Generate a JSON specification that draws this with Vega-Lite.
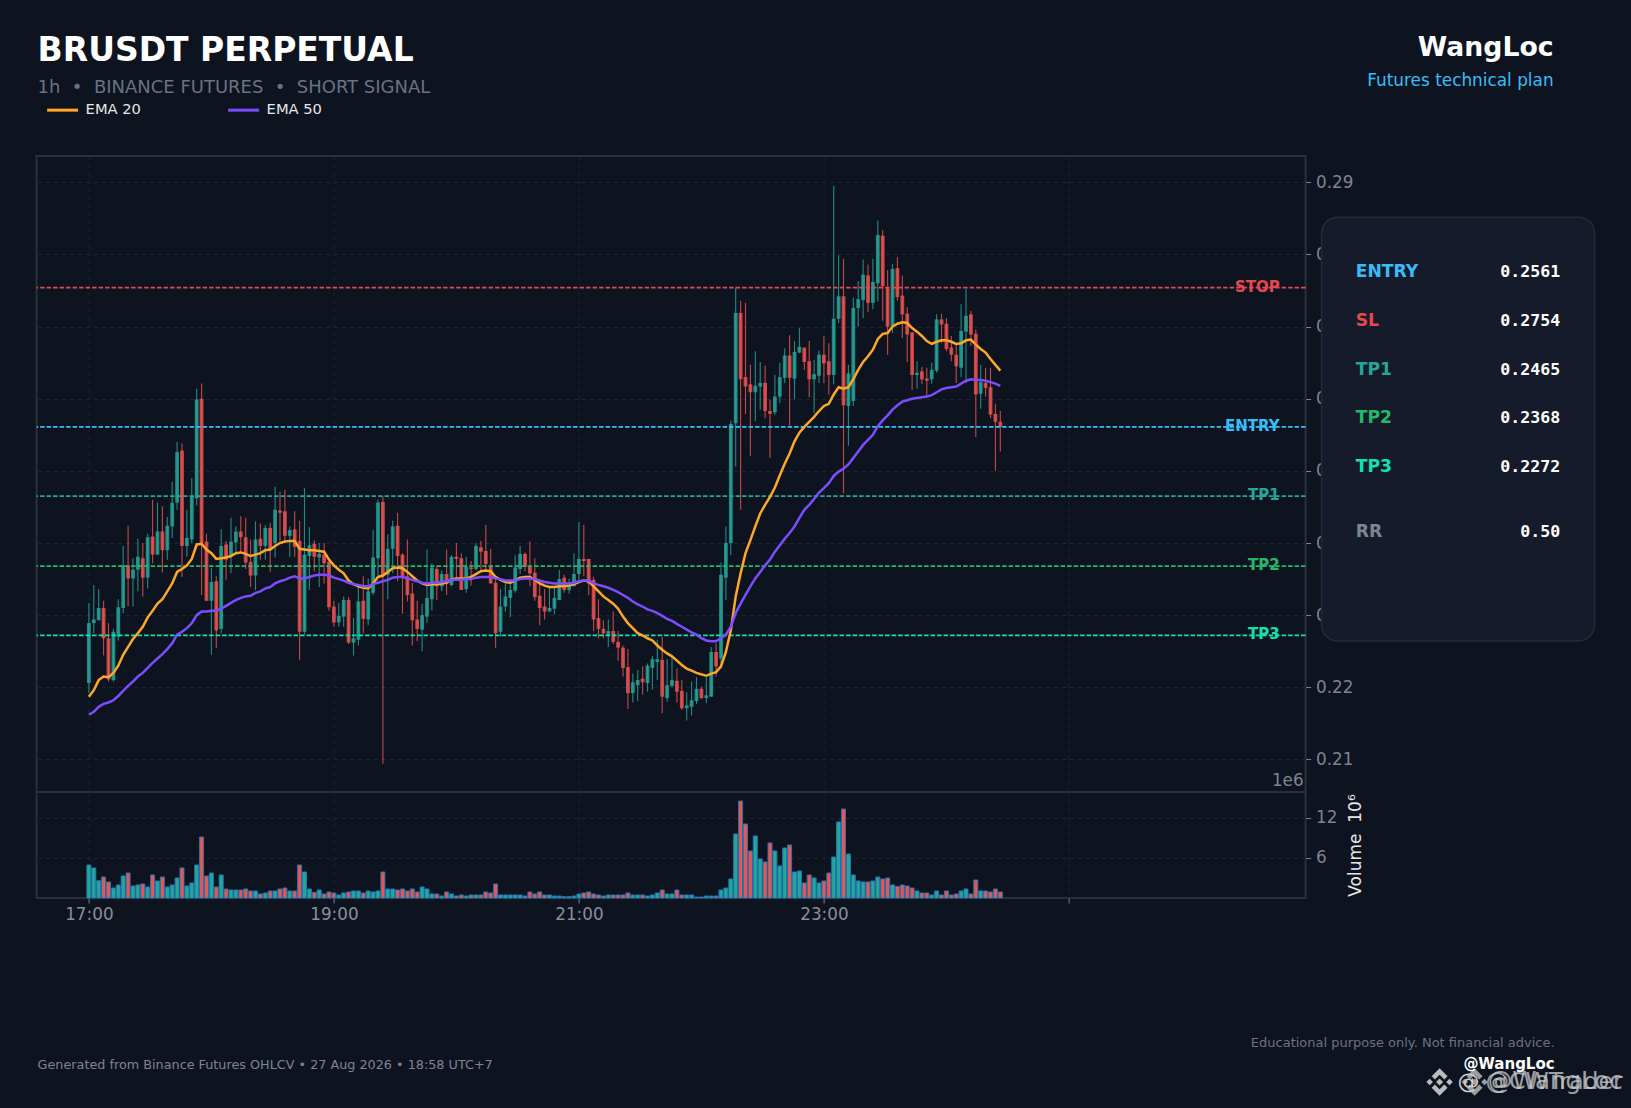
{"$schema":"https://vega.github.io/schema/vega-lite/v6.json","background":"#0d1420","padding":{"left":34.6,"top":0,"right":11,"bottom":0},"columns":2,"bounds":"flush","spacing":{"row":0,"column":16},"resolve":{"scale":{"color":"independent"}},"config":{"font":"DejaVu Sans","view":{"stroke":null},"text":{"font":"DejaVu Sans"}},
"datasets":{"levels":[{"name":"STOP","price":0.2754},{"name":"ENTRY","price":0.2561},{"name":"TP1","price":0.2465},{"name":"TP2","price":0.2368},{"name":"TP3","price":0.2272}],
"plan":[{"label":"ENTRY","value":"0.2561","row":1},{"label":"SL","value":"0.2754","row":2},{"label":"TP1","value":"0.2465","row":3},{"label":"TP2","value":"0.2368","row":4},{"label":"TP3","value":"0.2272","row":5},{"label":"RR","value":"0.50","row":6.34}],
"bars":[
{"i":0,"d":"up","o":0.2206,"h":0.2317,"l":0.2192,"c":0.2289,"e20":0.2187,"e50":0.2162,"v":4.95},
{"i":1,"d":"up","o":0.2289,"h":0.2342,"l":0.2275,"c":0.2294,"e20":0.2196,"e50":0.2166,"v":4.5},
{"i":2,"d":"up","o":0.2293,"h":0.2336,"l":0.2293,"c":0.231,"e20":0.221,"e50":0.2173,"v":2.6},
{"i":3,"d":"down","o":0.231,"h":0.232,"l":0.2244,"c":0.2268,"e20":0.2215,"e50":0.2177,"v":3.15},
{"i":4,"d":"down","o":0.2268,"h":0.2289,"l":0.2208,"c":0.2211,"e20":0.2214,"e50":0.2179,"v":2.4},
{"i":5,"d":"up","o":0.221,"h":0.2281,"l":0.2208,"c":0.2277,"e20":0.222,"e50":0.2182,"v":1.5},
{"i":6,"d":"up","o":0.227,"h":0.2322,"l":0.2265,"c":0.2311,"e20":0.223,"e50":0.2188,"v":1.95},
{"i":7,"d":"up","o":0.231,"h":0.2396,"l":0.2303,"c":0.2369,"e20":0.2245,"e50":0.2195,"v":3.3},
{"i":8,"d":"down","o":0.2369,"h":0.2424,"l":0.2312,"c":0.2351,"e20":0.2256,"e50":0.2202,"v":3.75},
{"i":9,"d":"up","o":0.2351,"h":0.2379,"l":0.2312,"c":0.2363,"e20":0.2267,"e50":0.2208,"v":1.8},
{"i":10,"d":"up","o":0.2363,"h":0.2406,"l":0.2333,"c":0.2381,"e20":0.2275,"e50":0.2215,"v":1.95},
{"i":11,"d":"down","o":0.2379,"h":0.24,"l":0.2326,"c":0.2352,"e20":0.2284,"e50":0.222,"v":2.1},
{"i":12,"d":"up","o":0.2352,"h":0.2413,"l":0.2337,"c":0.2408,"e20":0.2297,"e50":0.2227,"v":1.65},
{"i":13,"d":"down","o":0.2409,"h":0.246,"l":0.2372,"c":0.2384,"e20":0.2306,"e50":0.2234,"v":3.45},
{"i":14,"d":"up","o":0.2384,"h":0.2456,"l":0.2384,"c":0.2416,"e20":0.2316,"e50":0.224,"v":2.55},
{"i":15,"d":"down","o":0.2416,"h":0.2451,"l":0.2359,"c":0.239,"e20":0.2322,"e50":0.2246,"v":3.15},
{"i":16,"d":"up","o":0.239,"h":0.2436,"l":0.2377,"c":0.2424,"e20":0.2333,"e50":0.2253,"v":1.65},
{"i":17,"d":"up","o":0.2423,"h":0.2485,"l":0.2407,"c":0.2456,"e20":0.2344,"e50":0.2261,"v":1.95},
{"i":18,"d":"up","o":0.2456,"h":0.254,"l":0.2446,"c":0.2526,"e20":0.236,"e50":0.2273,"v":3.0},
{"i":19,"d":"down","o":0.2528,"h":0.2538,"l":0.2353,"c":0.2396,"e20":0.2364,"e50":0.2277,"v":4.5},
{"i":20,"d":"up","o":0.2396,"h":0.2446,"l":0.2381,"c":0.2407,"e20":0.2369,"e50":0.2282,"v":1.8},
{"i":21,"d":"up","o":0.2405,"h":0.249,"l":0.24,"c":0.2465,"e20":0.2378,"e50":0.2289,"v":2.25},
{"i":22,"d":"up","o":0.2462,"h":0.2614,"l":0.2452,"c":0.2599,"e20":0.2398,"e50":0.23,"v":4.95},
{"i":23,"d":"down","o":0.26,"h":0.2621,"l":0.2328,"c":0.24,"e20":0.2399,"e50":0.2305,"v":9.15},
{"i":24,"d":"down","o":0.2402,"h":0.2413,"l":0.232,"c":0.232,"e20":0.2391,"e50":0.2305,"v":3.3},
{"i":25,"d":"up","o":0.232,"h":0.2365,"l":0.2245,"c":0.2346,"e20":0.2386,"e50":0.2306,"v":3.75},
{"i":26,"d":"down","o":0.2347,"h":0.2354,"l":0.2255,"c":0.2279,"e20":0.2378,"e50":0.2306,"v":1.65},
{"i":27,"d":"up","o":0.2281,"h":0.2419,"l":0.2275,"c":0.2396,"e20":0.2379,"e50":0.2309,"v":3.45},
{"i":28,"d":"down","o":0.2398,"h":0.2403,"l":0.2349,"c":0.2377,"e20":0.238,"e50":0.2313,"v":1.35},
{"i":29,"d":"up","o":0.2382,"h":0.2435,"l":0.2358,"c":0.2402,"e20":0.2382,"e50":0.2317,"v":1.2},
{"i":30,"d":"up","o":0.2401,"h":0.2423,"l":0.2386,"c":0.2416,"e20":0.2386,"e50":0.2321,"v":1.2},
{"i":31,"d":"down","o":0.2416,"h":0.2437,"l":0.2386,"c":0.2408,"e20":0.2387,"e50":0.2324,"v":1.2},
{"i":32,"d":"down","o":0.2408,"h":0.2435,"l":0.2364,"c":0.2373,"e20":0.2385,"e50":0.2326,"v":1.35},
{"i":33,"d":"down","o":0.2374,"h":0.2405,"l":0.2339,"c":0.2355,"e20":0.2382,"e50":0.2327,"v":1.05},
{"i":34,"d":"up","o":0.2355,"h":0.243,"l":0.2335,"c":0.2405,"e20":0.2384,"e50":0.2331,"v":1.05},
{"i":35,"d":"down","o":0.2406,"h":0.2427,"l":0.2377,"c":0.2396,"e20":0.2386,"e50":0.2333,"v":0.6},
{"i":36,"d":"up","o":0.2396,"h":0.2425,"l":0.2377,"c":0.2421,"e20":0.239,"e50":0.2337,"v":0.75},
{"i":37,"d":"down","o":0.2421,"h":0.2428,"l":0.236,"c":0.2391,"e20":0.2391,"e50":0.2339,"v":1.05},
{"i":38,"d":"up","o":0.24,"h":0.2478,"l":0.238,"c":0.2446,"e20":0.2396,"e50":0.2344,"v":1.05},
{"i":39,"d":"down","o":0.2445,"h":0.2471,"l":0.2402,"c":0.2442,"e20":0.24,"e50":0.2347,"v":1.35},
{"i":40,"d":"down","o":0.2444,"h":0.2474,"l":0.24,"c":0.241,"e20":0.2402,"e50":0.2349,"v":1.5},
{"i":41,"d":"up","o":0.241,"h":0.2423,"l":0.2381,"c":0.2418,"e20":0.2403,"e50":0.2352,"v":1.05},
{"i":42,"d":"down","o":0.2419,"h":0.2444,"l":0.2381,"c":0.2395,"e20":0.2403,"e50":0.2354,"v":1.05},
{"i":43,"d":"down","o":0.2403,"h":0.2431,"l":0.2238,"c":0.2277,"e20":0.2392,"e50":0.2351,"v":4.95},
{"i":44,"d":"up","o":0.2277,"h":0.2476,"l":0.2274,"c":0.2384,"e20":0.2391,"e50":0.2351,"v":3.9},
{"i":45,"d":"up","o":0.2382,"h":0.2422,"l":0.2335,"c":0.2397,"e20":0.239,"e50":0.2353,"v":1.35},
{"i":46,"d":"down","o":0.2399,"h":0.2404,"l":0.2361,"c":0.2381,"e20":0.239,"e50":0.2355,"v":0.85},
{"i":47,"d":"up","o":0.238,"h":0.24,"l":0.2339,"c":0.2385,"e20":0.2389,"e50":0.2356,"v":1.2},
{"i":48,"d":"down","o":0.2384,"h":0.24,"l":0.2344,"c":0.2372,"e20":0.2388,"e50":0.2356,"v":0.6},
{"i":49,"d":"down","o":0.2374,"h":0.2377,"l":0.2306,"c":0.2311,"e20":0.2377,"e50":0.2355,"v":0.9},
{"i":50,"d":"down","o":0.2312,"h":0.232,"l":0.2284,"c":0.229,"e20":0.2369,"e50":0.2352,"v":0.75},
{"i":51,"d":"up","o":0.229,"h":0.2317,"l":0.2284,"c":0.2299,"e20":0.2363,"e50":0.235,"v":0.45},
{"i":52,"d":"up","o":0.2298,"h":0.2326,"l":0.2284,"c":0.2321,"e20":0.2358,"e50":0.2348,"v":0.75},
{"i":53,"d":"down","o":0.2321,"h":0.2325,"l":0.226,"c":0.2262,"e20":0.2348,"e50":0.2345,"v":0.9},
{"i":54,"d":"up","o":0.2262,"h":0.2296,"l":0.2244,"c":0.2268,"e20":0.2343,"e50":0.2343,"v":1.05},
{"i":55,"d":"up","o":0.2266,"h":0.234,"l":0.2258,"c":0.2319,"e20":0.234,"e50":0.2342,"v":1.05},
{"i":56,"d":"down","o":0.232,"h":0.2354,"l":0.2275,"c":0.2295,"e20":0.2338,"e50":0.234,"v":0.75},
{"i":57,"d":"up","o":0.2294,"h":0.2351,"l":0.2286,"c":0.2333,"e20":0.2337,"e50":0.234,"v":1.05},
{"i":58,"d":"up","o":0.2331,"h":0.2418,"l":0.2328,"c":0.238,"e20":0.2344,"e50":0.2343,"v":0.9},
{"i":59,"d":"up","o":0.2379,"h":0.246,"l":0.2355,"c":0.2456,"e20":0.2353,"e50":0.2345,"v":1.05},
{"i":60,"d":"down","o":0.2457,"h":0.2465,"l":0.2094,"c":0.2354,"e20":0.2355,"e50":0.2347,"v":3.9},
{"i":61,"d":"up","o":0.2356,"h":0.2412,"l":0.2322,"c":0.2392,"e20":0.236,"e50":0.2349,"v":1.35},
{"i":62,"d":"up","o":0.2392,"h":0.2431,"l":0.2358,"c":0.2423,"e20":0.2365,"e50":0.2352,"v":1.35},
{"i":63,"d":"down","o":0.2424,"h":0.2442,"l":0.2347,"c":0.2382,"e20":0.2366,"e50":0.2353,"v":1.2},
{"i":64,"d":"down","o":0.2384,"h":0.2386,"l":0.2302,"c":0.2354,"e20":0.2365,"e50":0.2353,"v":1.35},
{"i":65,"d":"down","o":0.2354,"h":0.2405,"l":0.2319,"c":0.2328,"e20":0.236,"e50":0.2351,"v":1.05},
{"i":66,"d":"down","o":0.233,"h":0.2345,"l":0.2258,"c":0.2293,"e20":0.2354,"e50":0.2349,"v":1.35},
{"i":67,"d":"down","o":0.2294,"h":0.232,"l":0.2264,"c":0.2281,"e20":0.2348,"e50":0.2347,"v":0.9},
{"i":68,"d":"up","o":0.228,"h":0.2316,"l":0.225,"c":0.23,"e20":0.2344,"e50":0.2345,"v":1.65},
{"i":69,"d":"up","o":0.2298,"h":0.2391,"l":0.2289,"c":0.2324,"e20":0.2342,"e50":0.2344,"v":1.35},
{"i":70,"d":"up","o":0.2322,"h":0.2372,"l":0.2307,"c":0.2366,"e20":0.2343,"e50":0.2345,"v":0.6},
{"i":71,"d":"down","o":0.2364,"h":0.2367,"l":0.2321,"c":0.234,"e20":0.2343,"e50":0.2345,"v":0.6},
{"i":72,"d":"up","o":0.234,"h":0.2362,"l":0.2333,"c":0.2357,"e20":0.2344,"e50":0.2346,"v":0.3},
{"i":73,"d":"down","o":0.2357,"h":0.2391,"l":0.2328,"c":0.2344,"e20":0.2345,"e50":0.2347,"v":0.9},
{"i":74,"d":"up","o":0.2342,"h":0.2383,"l":0.234,"c":0.2381,"e20":0.235,"e50":0.2349,"v":0.6},
{"i":75,"d":"down","o":0.2381,"h":0.24,"l":0.2349,"c":0.2378,"e20":0.2351,"e50":0.2349,"v":0.3},
{"i":76,"d":"down","o":0.2379,"h":0.2386,"l":0.2335,"c":0.2335,"e20":0.2351,"e50":0.2349,"v":0.45},
{"i":77,"d":"up","o":0.2336,"h":0.2381,"l":0.2331,"c":0.2367,"e20":0.2351,"e50":0.235,"v":0.3},
{"i":78,"d":"down","o":0.2366,"h":0.2375,"l":0.2341,"c":0.2364,"e20":0.2353,"e50":0.235,"v":0.45},
{"i":79,"d":"up","o":0.2364,"h":0.24,"l":0.2362,"c":0.2396,"e20":0.2357,"e50":0.2352,"v":0.45},
{"i":80,"d":"down","o":0.2394,"h":0.2403,"l":0.2362,"c":0.2388,"e20":0.2361,"e50":0.2353,"v":0.45},
{"i":81,"d":"down","o":0.2389,"h":0.2425,"l":0.2361,"c":0.2371,"e20":0.2362,"e50":0.2353,"v":0.9},
{"i":82,"d":"down","o":0.2369,"h":0.2392,"l":0.2344,"c":0.2344,"e20":0.2361,"e50":0.2353,"v":0.75},
{"i":83,"d":"down","o":0.2345,"h":0.2351,"l":0.2255,"c":0.2275,"e20":0.2353,"e50":0.2351,"v":2.1},
{"i":84,"d":"up","o":0.2277,"h":0.2336,"l":0.227,"c":0.2312,"e20":0.2349,"e50":0.235,"v":0.45},
{"i":85,"d":"up","o":0.2312,"h":0.2344,"l":0.2305,"c":0.2326,"e20":0.2346,"e50":0.2348,"v":0.45},
{"i":86,"d":"up","o":0.2324,"h":0.2349,"l":0.2297,"c":0.2335,"e20":0.2345,"e50":0.2348,"v":0.45},
{"i":87,"d":"up","o":0.2334,"h":0.2383,"l":0.2331,"c":0.2366,"e20":0.2348,"e50":0.2348,"v":0.45},
{"i":88,"d":"up","o":0.2364,"h":0.2396,"l":0.2357,"c":0.2385,"e20":0.2352,"e50":0.235,"v":0.45},
{"i":89,"d":"down","o":0.2385,"h":0.2387,"l":0.2361,"c":0.2367,"e20":0.2353,"e50":0.2351,"v":0.3},
{"i":90,"d":"down","o":0.2367,"h":0.2402,"l":0.234,"c":0.2358,"e20":0.2353,"e50":0.2351,"v":0.9},
{"i":91,"d":"down","o":0.2359,"h":0.2379,"l":0.232,"c":0.2325,"e20":0.2349,"e50":0.235,"v":0.6},
{"i":92,"d":"down","o":0.2327,"h":0.2349,"l":0.2286,"c":0.231,"e20":0.2344,"e50":0.2348,"v":0.9},
{"i":93,"d":"down","o":0.2312,"h":0.2336,"l":0.2294,"c":0.2305,"e20":0.2341,"e50":0.2346,"v":0.45},
{"i":94,"d":"up","o":0.2305,"h":0.234,"l":0.2305,"c":0.231,"e20":0.2339,"e50":0.2345,"v":0.45},
{"i":95,"d":"up","o":0.2309,"h":0.2338,"l":0.2301,"c":0.2324,"e20":0.2339,"e50":0.2344,"v":0.3},
{"i":96,"d":"up","o":0.2321,"h":0.2363,"l":0.2321,"c":0.235,"e20":0.234,"e50":0.2344,"v":0.3},
{"i":97,"d":"down","o":0.2352,"h":0.2356,"l":0.2331,"c":0.2335,"e20":0.234,"e50":0.2344,"v":0.2},
{"i":98,"d":"up","o":0.2335,"h":0.235,"l":0.233,"c":0.2341,"e20":0.2341,"e50":0.2344,"v":0.2},
{"i":99,"d":"up","o":0.234,"h":0.2386,"l":0.234,"c":0.2357,"e20":0.2343,"e50":0.2345,"v":0.3},
{"i":100,"d":"up","o":0.2357,"h":0.2429,"l":0.2345,"c":0.2378,"e20":0.2346,"e50":0.2347,"v":0.6},
{"i":101,"d":"down","o":0.2378,"h":0.2425,"l":0.2354,"c":0.2375,"e20":0.2348,"e50":0.2348,"v":0.75},
{"i":102,"d":"down","o":0.2378,"h":0.2378,"l":0.2328,"c":0.2344,"e20":0.2347,"e50":0.2348,"v":0.9},
{"i":103,"d":"down","o":0.2349,"h":0.2353,"l":0.2278,"c":0.2294,"e20":0.234,"e50":0.2344,"v":0.6},
{"i":104,"d":"down","o":0.2296,"h":0.2322,"l":0.2268,"c":0.2281,"e20":0.2333,"e50":0.2342,"v":0.45},
{"i":105,"d":"down","o":0.2281,"h":0.2293,"l":0.2268,"c":0.2275,"e20":0.2326,"e50":0.234,"v":0.3},
{"i":106,"d":"up","o":0.2273,"h":0.2294,"l":0.2256,"c":0.2278,"e20":0.2321,"e50":0.2338,"v":0.45},
{"i":107,"d":"down","o":0.2278,"h":0.2305,"l":0.226,"c":0.2263,"e20":0.2316,"e50":0.2335,"v":0.45},
{"i":108,"d":"down","o":0.2263,"h":0.2278,"l":0.2237,"c":0.2255,"e20":0.2309,"e50":0.2332,"v":0.45},
{"i":109,"d":"down","o":0.2255,"h":0.2258,"l":0.2215,"c":0.2227,"e20":0.2298,"e50":0.2328,"v":0.45},
{"i":110,"d":"down","o":0.2228,"h":0.2253,"l":0.217,"c":0.2192,"e20":0.2289,"e50":0.2324,"v":0.75},
{"i":111,"d":"up","o":0.2192,"h":0.2219,"l":0.2179,"c":0.2207,"e20":0.2282,"e50":0.2319,"v":0.45},
{"i":112,"d":"up","o":0.2203,"h":0.2224,"l":0.2181,"c":0.221,"e20":0.2275,"e50":0.2315,"v":0.45},
{"i":113,"d":"down","o":0.2212,"h":0.2229,"l":0.219,"c":0.2207,"e20":0.2272,"e50":0.2312,"v":0.45},
{"i":114,"d":"up","o":0.2206,"h":0.2233,"l":0.2194,"c":0.223,"e20":0.2268,"e50":0.2308,"v":0.3},
{"i":115,"d":"up","o":0.2227,"h":0.2243,"l":0.2197,"c":0.2239,"e20":0.2265,"e50":0.2306,"v":0.45},
{"i":116,"d":"up","o":0.2235,"h":0.2266,"l":0.221,"c":0.2239,"e20":0.2258,"e50":0.2303,"v":0.75},
{"i":117,"d":"down","o":0.2238,"h":0.227,"l":0.2164,"c":0.2187,"e20":0.2252,"e50":0.2299,"v":1.2},
{"i":118,"d":"up","o":0.2185,"h":0.2239,"l":0.218,"c":0.2203,"e20":0.2247,"e50":0.2295,"v":0.6},
{"i":119,"d":"up","o":0.2202,"h":0.2245,"l":0.22,"c":0.221,"e20":0.2243,"e50":0.2292,"v":0.6},
{"i":120,"d":"down","o":0.2209,"h":0.2226,"l":0.2179,"c":0.2194,"e20":0.2237,"e50":0.2288,"v":1.2},
{"i":121,"d":"down","o":0.2195,"h":0.221,"l":0.2169,"c":0.2171,"e20":0.2231,"e50":0.2284,"v":0.45},
{"i":122,"d":"up","o":0.2171,"h":0.2193,"l":0.2154,"c":0.2175,"e20":0.2226,"e50":0.228,"v":0.45},
{"i":123,"d":"up","o":0.2173,"h":0.2208,"l":0.2161,"c":0.2182,"e20":0.2223,"e50":0.2276,"v":0.45},
{"i":124,"d":"up","o":0.2181,"h":0.2214,"l":0.2177,"c":0.2198,"e20":0.222,"e50":0.2273,"v":0.15},
{"i":125,"d":"down","o":0.2198,"h":0.2201,"l":0.2184,"c":0.2185,"e20":0.2218,"e50":0.2268,"v":0.15},
{"i":126,"d":"up","o":0.2185,"h":0.2214,"l":0.2178,"c":0.2189,"e20":0.2216,"e50":0.2265,"v":0.3},
{"i":127,"d":"up","o":0.2187,"h":0.2256,"l":0.2187,"c":0.2249,"e20":0.2219,"e50":0.2264,"v":0.3},
{"i":128,"d":"down","o":0.2249,"h":0.2261,"l":0.2215,"c":0.2229,"e20":0.2221,"e50":0.2264,"v":0.3},
{"i":129,"d":"up","o":0.224,"h":0.2373,"l":0.2226,"c":0.2356,"e20":0.2229,"e50":0.2268,"v":1.2},
{"i":130,"d":"up","o":0.2352,"h":0.2423,"l":0.2321,"c":0.24,"e20":0.2249,"e50":0.2273,"v":1.5},
{"i":131,"d":"up","o":0.24,"h":0.257,"l":0.2383,"c":0.2565,"e20":0.2279,"e50":0.2284,"v":2.85},
{"i":132,"d":"up","o":0.2566,"h":0.2754,"l":0.2506,"c":0.2719,"e20":0.2326,"e50":0.2303,"v":9.6},
{"i":133,"d":"down","o":0.2719,"h":0.2736,"l":0.2446,"c":0.2627,"e20":0.2358,"e50":0.2316,"v":14.55},
{"i":134,"d":"down","o":0.263,"h":0.2733,"l":0.2579,"c":0.2617,"e20":0.2386,"e50":0.2328,"v":11.1},
{"i":135,"d":"down","o":0.262,"h":0.2647,"l":0.2521,"c":0.2609,"e20":0.2404,"e50":0.234,"v":7.05},
{"i":136,"d":"up","o":0.2609,"h":0.2666,"l":0.2569,"c":0.2618,"e20":0.2423,"e50":0.2351,"v":9.3},
{"i":137,"d":"up","o":0.2617,"h":0.2651,"l":0.2585,"c":0.2622,"e20":0.2441,"e50":0.236,"v":5.85},
{"i":138,"d":"down","o":0.2622,"h":0.2646,"l":0.2573,"c":0.2583,"e20":0.2453,"e50":0.2369,"v":5.4},
{"i":139,"d":"down","o":0.2583,"h":0.2599,"l":0.2518,"c":0.2579,"e20":0.2464,"e50":0.2377,"v":8.25},
{"i":140,"d":"up","o":0.2581,"h":0.2633,"l":0.2578,"c":0.2603,"e20":0.2477,"e50":0.2388,"v":7.05},
{"i":141,"d":"up","o":0.2603,"h":0.265,"l":0.2594,"c":0.263,"e20":0.2494,"e50":0.2397,"v":4.8},
{"i":142,"d":"up","o":0.2629,"h":0.267,"l":0.2622,"c":0.266,"e20":0.251,"e50":0.2406,"v":7.5},
{"i":143,"d":"down","o":0.266,"h":0.2688,"l":0.2563,"c":0.2629,"e20":0.2524,"e50":0.2414,"v":7.95},
{"i":144,"d":"up","o":0.2628,"h":0.268,"l":0.2599,"c":0.2665,"e20":0.2541,"e50":0.2423,"v":3.9},
{"i":145,"d":"up","o":0.2664,"h":0.2698,"l":0.2663,"c":0.2672,"e20":0.2553,"e50":0.2435,"v":4.05},
{"i":146,"d":"down","o":0.2671,"h":0.2671,"l":0.264,"c":0.2651,"e20":0.2561,"e50":0.2446,"v":2.25},
{"i":147,"d":"down","o":0.2652,"h":0.268,"l":0.2602,"c":0.2627,"e20":0.2568,"e50":0.2453,"v":3.45},
{"i":148,"d":"up","o":0.2627,"h":0.2654,"l":0.258,"c":0.2634,"e20":0.2575,"e50":0.2461,"v":3.0},
{"i":149,"d":"up","o":0.2632,"h":0.2667,"l":0.2622,"c":0.2661,"e20":0.2583,"e50":0.247,"v":2.25},
{"i":150,"d":"down","o":0.2661,"h":0.2687,"l":0.2622,"c":0.2649,"e20":0.259,"e50":0.2476,"v":2.55},
{"i":151,"d":"down","o":0.2652,"h":0.2677,"l":0.2606,"c":0.2633,"e20":0.2593,"e50":0.2483,"v":3.75},
{"i":152,"d":"up","o":0.2633,"h":0.2895,"l":0.262,"c":0.2711,"e20":0.2606,"e50":0.2493,"v":6.15},
{"i":153,"d":"up","o":0.2711,"h":0.2799,"l":0.2705,"c":0.2742,"e20":0.2616,"e50":0.2499,"v":11.4},
{"i":154,"d":"down","o":0.2742,"h":0.2794,"l":0.2469,"c":0.2591,"e20":0.2614,"e50":0.2503,"v":13.35},
{"i":155,"d":"up","o":0.259,"h":0.2647,"l":0.2535,"c":0.2635,"e20":0.2616,"e50":0.2509,"v":6.6},
{"i":156,"d":"up","o":0.2597,"h":0.274,"l":0.259,"c":0.2726,"e20":0.2627,"e50":0.2518,"v":3.45},
{"i":157,"d":"up","o":0.2726,"h":0.2763,"l":0.27,"c":0.2738,"e20":0.264,"e50":0.2527,"v":2.55},
{"i":158,"d":"up","o":0.2737,"h":0.2793,"l":0.2712,"c":0.2772,"e20":0.2651,"e50":0.2536,"v":2.4},
{"i":159,"d":"down","o":0.2771,"h":0.2786,"l":0.272,"c":0.2733,"e20":0.2659,"e50":0.2543,"v":2.4},
{"i":160,"d":"up","o":0.2733,"h":0.2794,"l":0.2724,"c":0.2762,"e20":0.2668,"e50":0.255,"v":2.55},
{"i":161,"d":"up","o":0.276,"h":0.2847,"l":0.2735,"c":0.2827,"e20":0.2683,"e50":0.2562,"v":3.15},
{"i":162,"d":"down","o":0.2826,"h":0.2834,"l":0.2708,"c":0.2756,"e20":0.269,"e50":0.257,"v":2.85},
{"i":163,"d":"down","o":0.2753,"h":0.2778,"l":0.2661,"c":0.27,"e20":0.2691,"e50":0.2577,"v":3.0},
{"i":164,"d":"up","o":0.2701,"h":0.2787,"l":0.2691,"c":0.278,"e20":0.27,"e50":0.2585,"v":1.95},
{"i":165,"d":"down","o":0.2781,"h":0.2796,"l":0.2736,"c":0.2741,"e20":0.2704,"e50":0.2591,"v":1.75},
{"i":166,"d":"down","o":0.2743,"h":0.2771,"l":0.2684,"c":0.2717,"e20":0.2706,"e50":0.2596,"v":1.95},
{"i":167,"d":"down","o":0.2718,"h":0.2727,"l":0.2651,"c":0.2689,"e20":0.2705,"e50":0.2598,"v":1.8},
{"i":168,"d":"down","o":0.2692,"h":0.2692,"l":0.2612,"c":0.2633,"e20":0.2698,"e50":0.26,"v":1.5},
{"i":169,"d":"up","o":0.2633,"h":0.2652,"l":0.2614,"c":0.2636,"e20":0.2693,"e50":0.2601,"v":1.05},
{"i":170,"d":"down","o":0.2638,"h":0.2644,"l":0.262,"c":0.2627,"e20":0.2687,"e50":0.2602,"v":0.75},
{"i":171,"d":"down","o":0.2628,"h":0.2643,"l":0.2603,"c":0.2625,"e20":0.268,"e50":0.2603,"v":0.75},
{"i":172,"d":"up","o":0.2627,"h":0.265,"l":0.2621,"c":0.264,"e20":0.2676,"e50":0.2605,"v":0.45},
{"i":173,"d":"up","o":0.2639,"h":0.2717,"l":0.2636,"c":0.271,"e20":0.2679,"e50":0.2609,"v":1.05},
{"i":174,"d":"down","o":0.271,"h":0.2718,"l":0.2677,"c":0.2703,"e20":0.2681,"e50":0.2613,"v":0.45},
{"i":175,"d":"down","o":0.2704,"h":0.2712,"l":0.2666,"c":0.2669,"e20":0.2681,"e50":0.2615,"v":1.05},
{"i":176,"d":"down","o":0.2671,"h":0.2687,"l":0.2652,"c":0.2661,"e20":0.2679,"e50":0.2616,"v":0.45},
{"i":177,"d":"down","o":0.2661,"h":0.2677,"l":0.2622,"c":0.2645,"e20":0.2676,"e50":0.2617,"v":0.6},
{"i":178,"d":"up","o":0.2643,"h":0.2731,"l":0.263,"c":0.2694,"e20":0.2677,"e50":0.2621,"v":1.05},
{"i":179,"d":"up","o":0.2693,"h":0.2752,"l":0.2622,"c":0.2715,"e20":0.2681,"e50":0.2625,"v":1.35},
{"i":180,"d":"down","o":0.2717,"h":0.2722,"l":0.2673,"c":0.2689,"e20":0.2682,"e50":0.2627,"v":0.6},
{"i":181,"d":"down","o":0.269,"h":0.2696,"l":0.2547,"c":0.2606,"e20":0.2675,"e50":0.2626,"v":2.7},
{"i":182,"d":"up","o":0.2607,"h":0.2647,"l":0.2586,"c":0.2623,"e20":0.2669,"e50":0.2626,"v":1.05},
{"i":183,"d":"down","o":0.2622,"h":0.2643,"l":0.2603,"c":0.2615,"e20":0.2664,"e50":0.2625,"v":1.05},
{"i":184,"d":"down","o":0.2616,"h":0.2643,"l":0.2573,"c":0.2578,"e20":0.2655,"e50":0.2623,"v":0.9},
{"i":185,"d":"down","o":0.2579,"h":0.2593,"l":0.25,"c":0.2568,"e20":0.2647,"e50":0.2621,"v":1.35},
{"i":186,"d":"down","o":0.2568,"h":0.2583,"l":0.2527,"c":0.2561,"e20":0.2639,"e50":0.2618,"v":0.9}
]},
"concat":[
{"width":1269,"height":156,"layer":[
{"data":{"values":[{"t":"BRUSDT PERPETUAL"}]},"mark":{"type":"text","align":"left","baseline":"alphabetic","fontSize":33,"fontWeight":"bold","color":"#ffffff"},"encoding":{"text":{"field":"t"},"x":{"datum":38,"axis":null,"scale":{"domain":[37,1306],"nice":false,"zero":false}},"y":{"datum":61,"axis":null,"scale":{"domain":[0,156],"reverse":true,"nice":false,"zero":false}}}},
{"data":{"values":[{"t":"1h\u00a0\u00a0•\u00a0\u00a0BINANCE FUTURES\u00a0\u00a0•\u00a0\u00a0SHORT SIGNAL"}]},"mark":{"type":"text","align":"left","baseline":"alphabetic","fontSize":18,"color":"#6b7280"},"encoding":{"text":{"field":"t"},"x":{"datum":38,"axis":null},"y":{"datum":93,"axis":null}}}
]},
{"width":273,"height":156,"layer":[
{"data":{"values":[{"t":"WangLoc"}]},"mark":{"type":"text","align":"right","baseline":"alphabetic","fontSize":26.7,"fontWeight":"bold","color":"#ffffff"},"encoding":{"text":{"field":"t"},"x":{"datum":1554,"axis":null,"scale":{"domain":[1322,1595],"nice":false,"zero":false}},"y":{"datum":56,"axis":null,"scale":{"domain":[0,156],"reverse":true,"nice":false,"zero":false}}}},
{"data":{"values":[{"t":"Futures technical plan"}]},"mark":{"type":"text","align":"right","baseline":"alphabetic","fontSize":16.9,"color":"#38bdf8"},"encoding":{"text":{"field":"t"},"x":{"datum":1554,"axis":null},"y":{"datum":86,"axis":null}}}
]},
{"width":1269,"height":636,"view":{"stroke":"#2a2f3a","strokeWidth":2},
"resolve":{"scale":{"color":"independent"}},
"layer":[
{"data":{"name":"bars"},"mark":{"type":"rule","strokeWidth":1.1,"opacity":0.82},"encoding":{"x":{"field":"i","type":"quantitative","scale":{"domain":[-10.67,248.3],"nice":false,"zero":false,"padding":0},"axis":{"values":[0,50,100,150,200],"labels":false,"ticks":false,"domain":false,"title":null,"grid":true,"gridColor":"#1e2532","gridDash":[4,4],"gridWidth":1}},"y":{"field":"l","type":"quantitative","scale":{"domain":[0.20549,0.29365],"nice":false,"zero":false},"axis":{"orient":"right","values":[0.21,0.22,0.23,0.24,0.25,0.26,0.27,0.28,0.29],"format":".2f","title":null,"grid":true,"gridColor":"#1e2532","gridDash":[4,4],"gridWidth":1,"domain":false,"tickColor":"#7d8590","tickSize":5,"labelColor":"#7d8590","labelFontSize":16.8,"labelPadding":5}},"y2":{"field":"h"},"color":{"field":"d","type":"nominal","legend":null,"scale":{"domain":["up","down"],"range":["#26a69a","#ef5350"]}}}},
{"data":{"name":"bars"},"mark":{"type":"bar","width":3.8,"opacity":0.82},"encoding":{"x":{"field":"i","type":"quantitative"},"y":{"field":"o","type":"quantitative"},"y2":{"field":"c"},"color":{"field":"d","type":"nominal","legend":null,"scale":{"domain":["up","down"],"range":["#26a69a","#ef5350"]}}}},
{"data":{"name":"levels"},"mark":{"type":"rule","strokeDash":[4.5,2],"strokeWidth":1.8},"encoding":{"y":{"field":"price","type":"quantitative"},"color":{"field":"name","type":"nominal","legend":null,"scale":{"domain":["STOP","ENTRY","TP1","TP2","TP3"],"range":["#e5484d","#38bdf8","#26a69a","#25b868","#14e0b0"]}}}},
{"data":{"name":"levels"},"mark":{"type":"text","align":"right","baseline":"middle","fontSize":15,"fontWeight":"bold","dy":-1},"encoding":{"x":{"datum":243},"y":{"field":"price","type":"quantitative"},"text":{"field":"name"},"color":{"field":"name","type":"nominal","legend":null,"scale":{"domain":["STOP","ENTRY","TP1","TP2","TP3"],"range":["#e5484d","#38bdf8","#26a69a","#25b868","#14e0b0"]}}}},
{"data":{"name":"bars"},"transform":[{"fold":["e20","e50"],"as":["ema","value"]}],"mark":{"type":"line","strokeWidth":2.5},"encoding":{"x":{"field":"i","type":"quantitative"},"y":{"field":"value","type":"quantitative"},"color":{"field":"ema","type":"nominal","scale":{"domain":["e20","e50"],"range":["#ffa726","#7c4dff"]},"legend":{"orient":"none","legendX":9,"legendY":-63,"direction":"horizontal","columns":2,"columnPadding":80,"title":null,"symbolType":"stroke","symbolSize":961,"symbolStrokeWidth":3,"labelColor":"#e6e6e6","labelFontSize":14.7,"labelOffset":6,"labelExpr":"datum.label=='e20'?'EMA 20':'EMA 50'"}}}}
]},
{"width":273,"height":636,"data":{"name":"plan"},"layer":[
{"data":{"values":[{"t":"panel"}]},"mark":{"type":"rect","fill":"#151b2b","stroke":"#252b3a","strokeWidth":1.5,"cornerRadius":16},"encoding":{"x":{"datum":0,"axis":null,"scale":{"domain":[0,1],"nice":false,"zero":false}},"x2":{"datum":1},"y":{"datum":-0.105,"axis":null,"scale":{"domain":[-1.366,11.72],"reverse":true,"nice":false,"zero":false}},"y2":{"datum":8.613}}},
{"mark":{"type":"text","align":"left","baseline":"middle","fontSize":17.2,"fontWeight":"bold","dy":1.5},"encoding":{"x":{"datum":0.125,"axis":null},"y":{"field":"row","type":"quantitative","axis":null},"text":{"field":"label"},"color":{"field":"label","type":"nominal","legend":null,"scale":{"domain":["ENTRY","SL","TP1","TP2","TP3","RR"],"range":["#38bdf8","#e5484d","#26a69a","#25b868","#14e0b0","#7d8590"]}}}},
{"mark":{"type":"text","align":"right","baseline":"middle","fontSize":16.6,"fontWeight":"bold","font":"DejaVu Sans Mono","color":"#ffffff","dy":1.5},"encoding":{"x":{"datum":0.874,"axis":null},"y":{"field":"row","type":"quantitative","axis":null},"text":{"field":"value"}}}
]},
{"width":1269,"height":106,"view":{"stroke":"#2a2f3a","strokeWidth":2},
"layer":[
{"data":{"name":"bars"},"mark":{"type":"bar","width":4,"stroke":"#1f77b4","strokeWidth":1},"encoding":{"x":{"field":"i","type":"quantitative","scale":{"domain":[-10.67,248.3],"nice":false,"zero":false,"padding":0},"axis":{"values":[0,50,100,150,200],"title":null,"grid":true,"gridColor":"#1e2532","gridDash":[4,4],"gridWidth":1,"domain":false,"labelExpr":"datum.value==0?'17:00':datum.value==50?'19:00':datum.value==100?'21:00':datum.value==150?'23:00':''","tickColor":"#7d8590","tickSize":5,"labelColor":"#8b8f98","labelFontSize":16.8,"labelPadding":4}},"y":{"field":"v","type":"quantitative","stack":null,"scale":{"domain":[0,15.9],"nice":false},"axis":{"orient":"right","values":[6,12],"title":"Volume\u00a0\u00a010⁶","titleColor":"#e6e6e6","titleFontSize":17,"titleFontWeight":"normal","titleAngle":270,"titlePadding":28,"grid":true,"gridColor":"#1e2532","gridDash":[4,4],"gridWidth":1,"domain":false,"tickColor":"#7d8590","tickSize":5,"labelColor":"#7d8590","labelFontSize":16.8,"labelPadding":5}},"color":{"field":"d","type":"nominal","legend":null,"scale":{"domain":["up","down"],"range":["#26a69a","#ef5350"]}}}},
{"data":{"values":[{"t":"1e6"}]},"mark":{"type":"text","align":"right","baseline":"middle","fontSize":16.8,"color":"#7d8590"},"encoding":{"text":{"field":"t"},"x":{"datum":247.9},"y":{"datum":17.6}}}
]},
{"width":273,"height":106,"data":{"values":[{"t":""}]},"mark":{"type":"text"},"encoding":{"text":{"field":"t"}}},
{"width":1269,"height":210,"layer":[
{"data":{"values":[{"t":"Generated from Binance Futures OHLCV • 27 Aug 2026 • 18:58 UTC+7"}]},"mark":{"type":"text","align":"left","baseline":"middle","fontSize":12.8,"color":"#7d8590"},"encoding":{"text":{"field":"t"},"x":{"datum":38,"axis":null,"scale":{"domain":[37,1306],"nice":false,"zero":false}},"y":{"datum":1065,"axis":null,"scale":{"domain":[898,1108],"reverse":true,"nice":false,"zero":false}}}}
]},
{"width":273,"height":210,"layer":[
{"data":{"values":[{"t":"Educational purpose only. Not financial advice."}]},"mark":{"type":"text","align":"right","baseline":"middle","fontSize":13,"color":"#6b7280"},"encoding":{"text":{"field":"t"},"x":{"datum":1555,"axis":null,"scale":{"domain":[1322,1595],"nice":false,"zero":false}},"y":{"datum":1043,"axis":null,"scale":{"domain":[898,1108],"reverse":true,"nice":false,"zero":false}}}},
{"data":{"values":[{"t":"logo1"}]},"mark":{"type":"point","filled":true,"size":756,"opacity":0.85,"color":"#d8d8d8","shape":"M0,-1L.58,-.42L.34,-.18L0,-.52L-.34,-.18L-.58,-.42ZM0,1L.58,.42L.34,.18L0,.52L-.34,.18L-.58,.42ZM0,-.26L.26,0L0,.26L-.26,0ZM-.72,-.24L-.48,0L-.72,.24L-.96,0ZM.72,-.24L.96,0L.72,.24L.48,0Z"},"encoding":{"x":{"datum":1440,"axis":null},"y":{"datum":1082,"axis":null}}},
{"data":{"values":[{"t":"logo2"}]},"mark":{"type":"point","filled":true,"size":756,"opacity":0.7,"color":"#d8d8d8","shape":"M0,-1L.58,-.42L.34,-.18L0,-.52L-.34,-.18L-.58,-.42ZM0,1L.58,.42L.34,.18L0,.52L-.34,.18L-.58,.42ZM0,-.26L.26,0L0,.26L-.26,0ZM-.72,-.24L-.48,0L-.72,.24L-.96,0ZM.72,-.24L.96,0L.72,.24L.48,0Z"},"encoding":{"x":{"datum":1475,"axis":null},"y":{"datum":1082,"axis":null}}},
{"data":{"values":[{"t":"@"}]},"mark":{"type":"text","align":"center","baseline":"middle","fontSize":22,"color":"#cfcfcf"},"encoding":{"text":{"field":"t"},"x":{"datum":1469,"axis":null},"y":{"datum":1082,"axis":null}}},
{"data":{"values":[{"t":"@CWTrader"}]},"mark":{"type":"text","align":"right","baseline":"middle","fontSize":23.5,"color":"#cfcfcf","opacity":0.75},"encoding":{"text":{"field":"t"},"x":{"datum":1623,"axis":null},"y":{"datum":1082,"axis":null}}},
{"data":{"values":[{"t":"@WangLoc"}]},"mark":{"type":"text","align":"right","baseline":"middle","fontSize":24.5,"color":"#cfcfcf","opacity":0.75},"encoding":{"text":{"field":"t"},"x":{"datum":1623,"axis":null},"y":{"datum":1082,"axis":null}}},
{"data":{"values":[{"t":"@WangLoc"}]},"mark":{"type":"text","align":"right","baseline":"middle","fontSize":15,"fontWeight":"bold","color":"#ffffff"},"encoding":{"text":{"field":"t"},"x":{"datum":1555,"axis":null},"y":{"datum":1064,"axis":null}}}
]}
]}
